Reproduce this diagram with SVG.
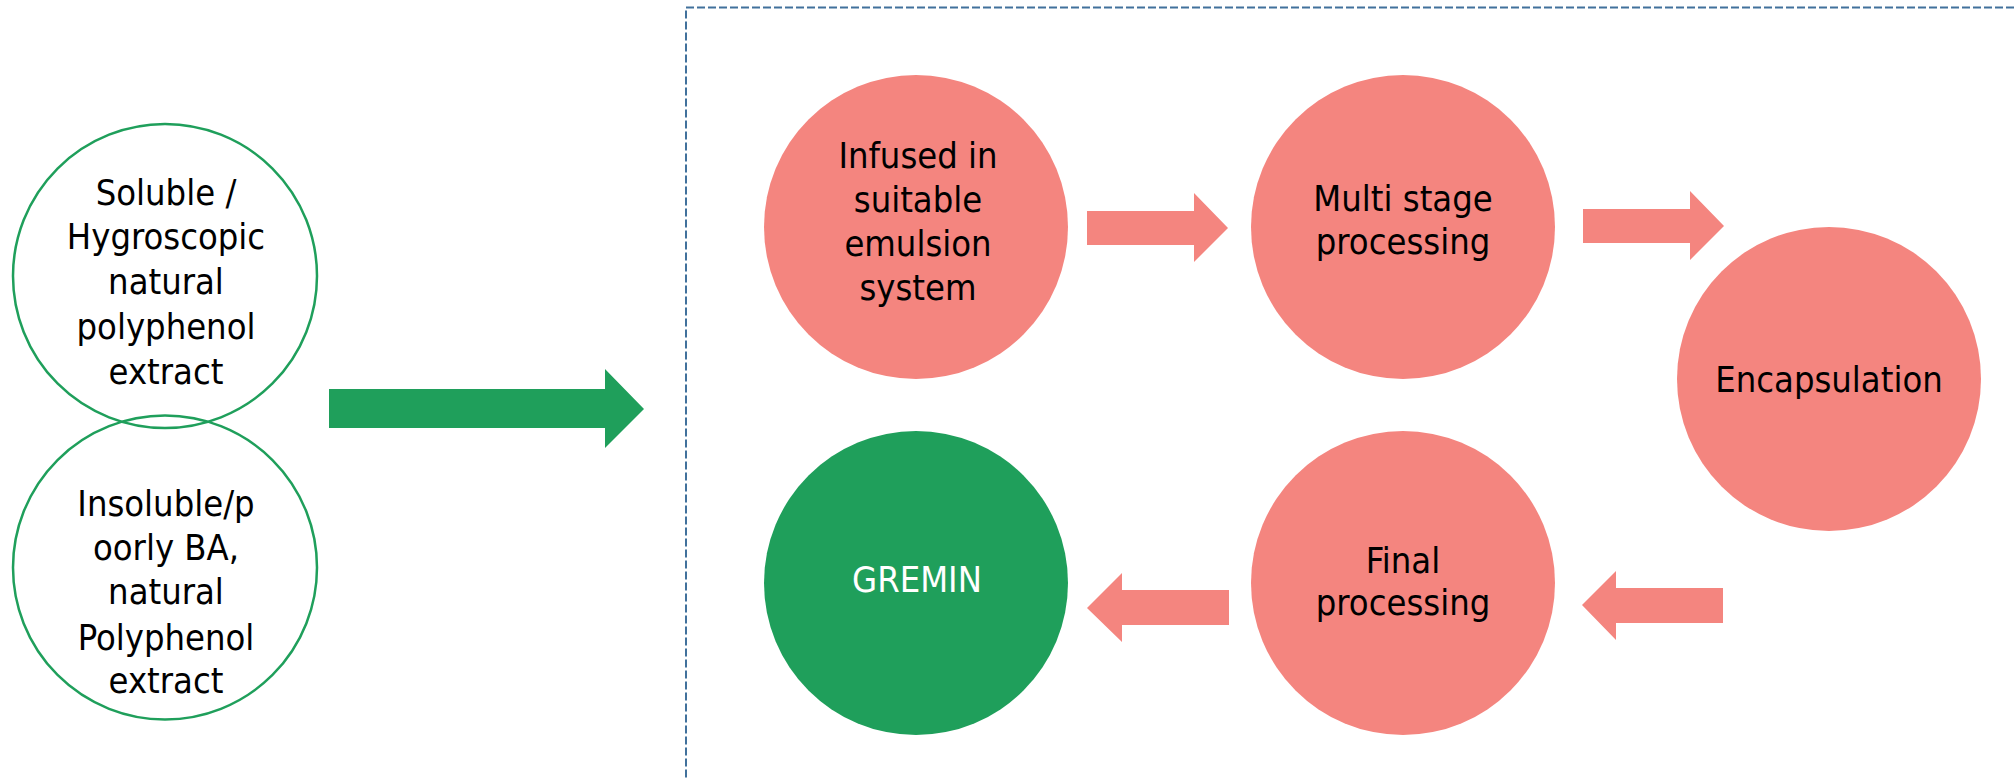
<svg xmlns="http://www.w3.org/2000/svg" width="2015" height="780" viewBox="0 0 2015 780">
<style>
.t{font-family:"DejaVu Sans Condensed","DejaVu Sans","Liberation Sans",sans-serif;font-stretch:condensed;font-size:36px;fill:#000;text-anchor:middle}
.tl{font-family:"DejaVu Sans Condensed","DejaVu Sans","Liberation Sans",sans-serif;font-stretch:condensed;font-size:36px;fill:#000;text-anchor:middle}
.w{fill:#fff}
.pink{fill:#F4857F}
.green{fill:#1F9F5B}
.outline{fill:#fff;stroke:#1F9F5B;stroke-width:2.5}
</style>
<rect x="686" y="7.5" width="1400" height="800" fill="none" stroke="#41719C" stroke-width="2" stroke-dasharray="8,3"/>
<g id="connectors">
<polygon class="green" points="329,389 605,389 605,369 644,409 605,448 605,428 329,428"/>
<polygon class="pink" points="1087,211 1194,211 1194,193 1228,228 1194,262 1194,245 1087,245"/>
<polygon class="pink" points="1583,209 1690,209 1690,191 1724,226 1690,260 1690,243 1583,243"/>
<polygon class="pink" points="1723,588 1616,588 1616,571 1582,605 1616,640 1616,623 1723,623"/>
<polygon class="pink" points="1229,590 1122,590 1122,573 1087,608 1122,642 1122,625 1229,625"/>
</g>
<g id="soluble">
<circle class="outline" cx="165" cy="276" r="152"/>
</g>
<g id="insoluble">
<circle class="outline" cx="165" cy="567.5" r="152" fill="none" style="fill:none"/>
</g>
<g id="soluble-text">
<text class="tl" x="166"><tspan x="166" y="205">Soluble /</tspan><tspan x="166" y="249">Hygroscopic</tspan><tspan x="166" y="294">natural</tspan><tspan x="166" y="339">polyphenol</tspan><tspan x="166" y="384">extract</tspan></text>
</g>
<g id="insoluble-text">
<text class="tl" x="166"><tspan x="166" y="516">Insoluble/p</tspan><tspan x="166" y="560">oorly BA,</tspan><tspan x="166" y="604">natural</tspan><tspan x="166" y="650">Polyphenol</tspan><tspan x="166" y="693">extract</tspan></text>
</g>
<g id="infused">
<circle class="pink" cx="916" cy="227" r="152"/>
<text class="t"><tspan x="918" y="168">Infused in</tspan><tspan x="918" y="212">suitable</tspan><tspan x="918" y="256">emulsion</tspan><tspan x="918" y="300">system</tspan></text>
</g>
<g id="multistage">
<circle class="pink" cx="1403" cy="227" r="152"/>
<text class="t"><tspan x="1403" y="211">Multi stage</tspan><tspan x="1403" y="254">processing</tspan></text>
</g>
<g id="encapsulation">
<circle class="pink" cx="1829" cy="379" r="152"/>
<text class="t" x="1829" y="392">Encapsulation</text>
</g>
<g id="final">
<circle class="pink" cx="1403" cy="583" r="152"/>
<text class="t"><tspan x="1403" y="573">Final</tspan><tspan x="1403" y="615">processing</tspan></text>
</g>
<g id="gremin">
<circle class="green" cx="916" cy="583" r="152"/>
<text class="t w" x="917" y="592">GREMIN</text>
</g>
</svg>
